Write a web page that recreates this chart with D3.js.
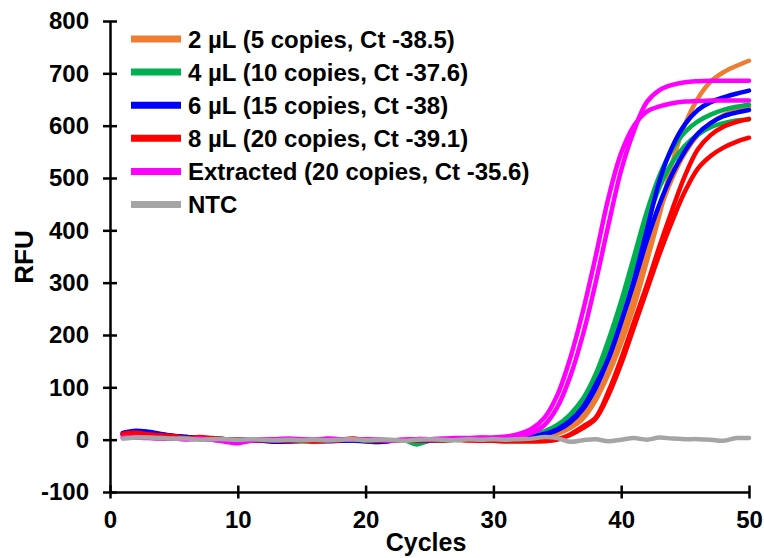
<!DOCTYPE html>
<html><head><meta charset="utf-8">
<script src="https://cdn.jsdelivr.net/npm/d3@7"></script>
<style>
body{margin:0;background:#fff}
svg{display:block}
text{font-family:Arial,"Liberation Sans",sans-serif;font-weight:bold;fill:#000}
</style>
</head><body>
<svg id="chart" width="764" height="558"></svg>
<script>
// ---------- data ----------
const cycles = [1,2,3,4,5,6,7,8,9,10,11,12,13,14,15,16,17,18,19,20,21,22,23,24,25,26,27,28,29,30,31,32,33,34,35,36,37,38,39,40,41,42,43,44,45,46,47,48,49,50];

const orange1 = [8,10,8,6,5,3,2,1,0,-1,-1,0,-2,-1,-2,-3,-2,-1,-1,-2,-3,-2,-1,0,-1,-1,0,1,0,1,2,2,
  3,6,11,22,40,75,125,185,255,340,430,530,603,652,684,702,714,724];
const orange2 = [9,11,9,7,5,4,2,1,1,0,-1,-1,-2,-2,-3,-2,-1,-2,-2,-3,-2,-1,-2,-1,0,0,1,0,1,2,2,3,
  4,8,14,26,45,80,132,198,275,358,437,500,548,582,605,620,630,636];
const green1 = [10,13,11,8,6,4,3,2,1,0,-1,-2,-2,-3,-2,-3,-2,-1,-2,-3,-5,-2,-1,-9,-2,-1,0,0,1,1,2,3,
  9,16,28,48,78,125,190,265,350,435,505,555,588,608,621,630,636,640];
const green2 = [9,12,10,8,6,5,3,2,1,0,-1,-1,-2,-2,-3,-2,-2,-1,-1,-2,-3,-2,-1,-4,-2,-1,0,1,1,2,2,3,
  7,13,24,42,70,115,178,252,335,415,482,530,562,583,597,605,610,612];
const blue1 = [13,17,15,11,7,5,3,2,1,0,-1,-2,-4,-3,-2,-2,-3,-2,-1,-3,-4,-2,-1,-2,-1,0,1,0,1,2,2,3,
  6,11,20,36,62,105,155,225,305,400,495,560,603,630,645,654,661,667];
const blue2 = [12,16,14,10,7,5,3,2,1,0,-1,-2,-3,-3,-2,-2,-2,-2,-1,-2,-3,-2,-1,-2,-1,0,0,0,1,1,2,3,
  5,10,18,33,58,98,155,225,300,380,450,508,552,585,605,618,625,630];
const red1 = [11,13,10,8,7,2,5,3,1,0,-1,0,-1,-2,-1,-3,-2,0,2,-1,-2,-1,-2,-1,0,-1,0,-1,-1,-2,-3,-3,
  -3,-3,0,10,25,42,92,155,225,295,370,440,505,555,582,598,607,613];
const red2 = [10,12,10,8,6,3,4,2,1,0,-1,-1,-2,-2,-2,-3,-2,-1,1,-1,-2,-2,-2,-1,-1,-1,0,-1,-2,-2,-3,-3,
  -3,-2,1,9,22,40,85,145,215,285,355,418,475,518,542,558,569,577];
const magenta1 = [4,5,4,3,2,1,2,0,-4,-7,-2,0,1,2,1,0,2,1,0,1,0,-1,0,1,1,2,3,3,4,4,
  6,11,21,42,85,155,245,350,462,548,600,627,637,643,646,647,648,648,648,648];
const magenta2 = [3,4,3,2,2,1,1,0,-2,-5,-1,0,1,1,0,0,1,1,0,0,0,-1,0,1,1,1,2,2,3,3,
  4,7,13,28,62,120,200,300,410,515,590,645,668,678,683,685,686,686,686,686];
const ntc = [2,4,4,3,2,2,0,1,1,0,1,0,-1,0,-1,0,-1,0,1,-1,0,0,-2,0,1,0,-1,1,0,1,
  0,1,2,5,3,-4,-1,1,-3,0,3,0,4,2,1,1,0,-2,3,3];

const legendLabels = ["2 \u00b5L (5 copies, Ct -38.5)","4 \u00b5L (10 copies, Ct -37.6)","6 \u00b5L (15 copies, Ct -38)","8 \u00b5L (20 copies, Ct -39.1)","Extracted (20 copies, Ct -35.6)","NTC"];
const seriesColors = ["#ED7D31","#00B050","#0000FF","#FF0000","#FF00FF","#A5A5A5"];
const seriesGroups = [[orange1,orange2],[green1,green2],[blue1,blue2],[red1,red2],[magenta1,magenta2],[ntc]];

const xTicks = [0,10,20,30,40,50];
const yTicks = [-100,0,100,200,300,400,500,600,700,800];

// ---------- drawing ----------
const svg = d3.select("#chart");
const x = d3.scaleLinear().domain([0,50]).range([110,749]);
const y = d3.scaleLinear().domain([-100,800]).range([492,21]);

const line = d3.line()
  .x((d,i)=>x(cycles[i]))
  .y(d=>y(d))
  .curve(d3.curveCatmullRom.alpha(0.5));

const gLines = svg.append("g");
seriesGroups.forEach((grp,gi)=>{
  grp.forEach(vals=>{
    gLines.append("path")
      .attr("d", line(vals))
      .attr("fill","none")
      .attr("stroke", seriesColors[gi])
      .attr("stroke-width", 4.5)
      .attr("stroke-linecap","round")
      .attr("stroke-linejoin","round");
  });
});

// axes
const fmt = d => String(d);
const xAxis = svg.append("g").attr("transform",`translate(0,${y(-100)})`)
  .call(d3.axisBottom(x).tickValues(xTicks).tickFormat(fmt).tickSize(6.5).tickSizeOuter(0).tickPadding(12));
xAxis.selectAll(".tick line").attr("y1",-6.5).attr("y2",6.5);
const yAxis = svg.append("g").attr("transform",`translate(${x(0)},0)`)
  .call(d3.axisLeft(y).tickValues(yTicks).tickFormat(fmt).tickSize(7).tickSizeOuter(0).tickPadding(14));
yAxis.selectAll(".tick line").attr("x1",-7).attr("x2",7);

[xAxis,yAxis].forEach(a=>{
  a.select(".domain").attr("stroke","#000").attr("stroke-width",2.5);
  a.selectAll(".tick line").attr("stroke","#000").attr("stroke-width",2.5);
  a.selectAll(".tick text").style("font-size","24px").style("font-weight","bold")
    .style("font-family","Arial,'Liberation Sans',sans-serif").attr("fill","#000");
});
xAxis.selectAll(".tick text").attr("dy","0.71em");

// axis titles
svg.append("text").attr("x",426).attr("y",551).attr("text-anchor","middle")
  .style("font-size","25px").text("Cycles");
svg.append("text").attr("transform","translate(33,257) rotate(-90)").attr("text-anchor","middle")
  .style("font-size","26px").text("RFU");

// legend
const leg = svg.append("g");
legendLabels.forEach((lab,i)=>{
  const cy = 39 + i*33.1;
  leg.append("line").attr("x1",131).attr("x2",181).attr("y1",cy).attr("y2",cy)
    .attr("stroke",seriesColors[i]).attr("stroke-width",7);
  leg.append("text").attr("x",188).attr("y",cy).attr("dy","0.36em")
    .style("font-size","24px").text(lab);
});
</script>
</body></html>
